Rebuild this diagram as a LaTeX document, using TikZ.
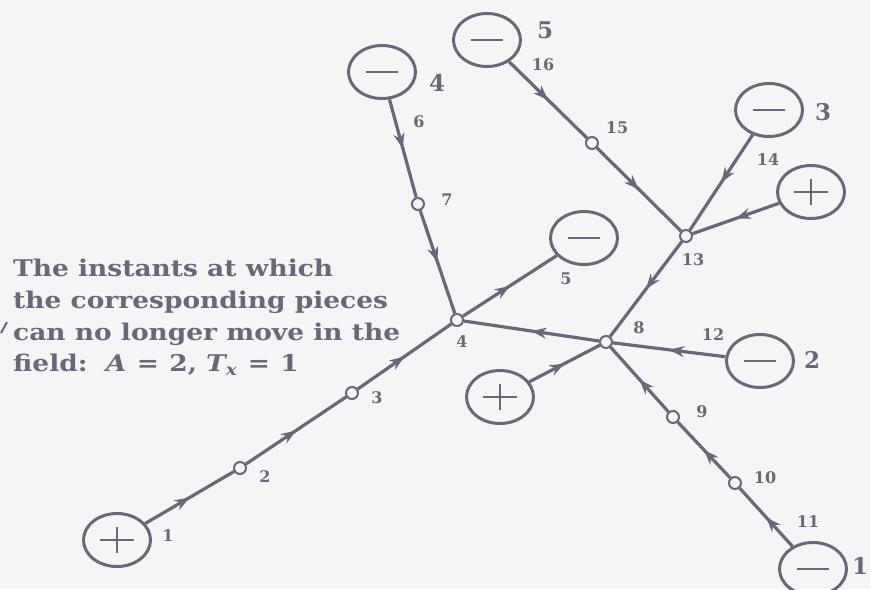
\documentclass[tikz,border=0pt]{standalone}
\usepackage{fontspec}
\setmainfont{DejaVu Serif}
\newfontfamily\notefont[FakeStretch=1.15]{DejaVu Serif}
\usepackage{tikz}
\usetikzlibrary{shapes, arrows.meta, decorations.markings}
\definecolor{ink}{RGB}{104,104,120}
\definecolor{paper}{RGB}{244,245,245}
\newcommand{\eqsign}{\hspace{0.45em}=\hspace{0.45em}}

\begin{document}
\begin{tikzpicture}[x=1pt, y=-1pt,
	charge/.style={draw=ink, line width=3pt, ellipse, minimum width=67pt, minimum height=53pt, inner sep=0pt},
	minus/.style={charge, path picture={\draw[ink, line width=2pt] ([xshift=-16pt]path picture bounding box.center) -- ([xshift=16pt]path picture bounding box.center);}},
	plus/.style={charge, path picture={\draw[ink, line width=2.2pt] ([xshift=-17pt]path picture bounding box.center) -- ([xshift=17pt]path picture bounding box.center) ([yshift=-13pt]path picture bounding box.center) -- ([yshift=13pt]path picture bounding box.center);}},
	joint/.style={draw=ink, fill=paper, circle, line width=2pt, minimum size=12pt, inner sep=0pt},
	tag/.style={text=ink, font=\bfseries\fontsize{16}{16}\selectfont, inner sep=0pt},
	pole/.style={text=ink, font=\bfseries\fontsize{23}{23}\selectfont, inner sep=0pt},
	note/.style={text=ink, align=left, inner sep=0pt, font=\notefont\bfseries\fontsize{23}{31.7}\selectfont},
	wire/.style={draw=ink, line width=3.2pt, postaction={decorate}, decoration={markings, mark=at position 0.5 with {\arrow{Stealth[length=15pt, width=11pt]}}}}
	]
	\fill [paper] (0,0) rectangle (870,589);
	\useasboundingbox (0,0) rectangle (870,589);

	% charges
	\node [plus](p1) at (117,540) {};
	\node [minus](m1) at (813,569) {};
	\node [minus](m2) at (760,361) {};
	\node [minus](m3) at (769,110) {};
	\node [minus](m4) at (382,72) {};
	\node [minus](m5) at (487,40) {};
	\node [minus](m6) at (584,238) {};
	\node [plus](p8) at (500,397) {};
	\node [plus](p13) at (811,192) {};

	% junctions
	\node [joint](j2) at (240,468) {};
	\node [joint](j3) at (352,393) {};
	\node [joint](j4) at (457,320) {};
	\node [joint](j7) at (418,204) {};
	\node [joint](j8) at (606,342) {};
	\node [joint](j9) at (673,417) {};
	\node [joint](j10) at (735,483) {};
	\node [joint](j13) at (686,236) {};
	\node [joint](j15) at (592,143) {};

	% wires
	\draw [wire] (p1) -- (j2);
	\draw [wire] (j2) -- (j3);
	\draw [wire] (j3) -- (j4);
	\draw [wire] (j4) -- (m6);
	\draw [wire] (m4) -- (j7);
	\draw [wire] (j7) -- (j4);
	\draw [wire] (m5) -- (j15);
	\draw [wire] (j15) -- (j13);
	\draw [wire] (m3) -- (j13);
	\draw [wire] (p13) -- (j13);
	\draw [wire] (j13) -- (j8);
	\draw [wire] (j8) -- (j4);
	\draw [wire] (m2) -- (j8);
	\draw [wire] (p8) -- (j8);
	\draw [wire] (j9) -- (j8);
	\draw [wire] (j10) -- (j9);
	\draw [wire] (m1) -- (j10);

	% time labels
	\node [tag](t1) at (168,536) {1};
	\node [tag](t2) at (265,477) {2};
	\node [tag](t3) at (377,398) {3};
	\node [tag](t4) at (462,342) {4};
	\node [tag](t5) at (566,279) {5};
	\node [tag](t6) at (419,122) {6};
	\node [tag](t7) at (447,200) {7};
	\node [tag](t8) at (639,328) {8};
	\node [tag](t9) at (702,412) {9};
	\node [tag](t10) at (765,478) {10};
	\node [tag](t11) at (808,522) {11};
	\node [tag](t12) at (713,335) {12};
	\node [tag](t13) at (693,260) {13};
	\node [tag](t14) at (768,160) {14};
	\node [tag](t15) at (617,128) {15};
	\node [tag](t16) at (543,65) {16};

	% piece numbers
	\node [pole](n1) at (860,566) {1};
	\node [pole](n2) at (812,360) {2};
	\node [pole](n3) at (823,112) {3};
	\node [pole](n4) at (437,83) {4};
	\node [pole](n5) at (545,30) {5};

	% caption
	\node [note, anchor=north west](caption) at (13,259) {The instants at which\\the corresponding pieces\\can no longer move in the\\field:\ \ {\itshape A}\eqsign 2, {\itshape T}\textsubscript{\itshape x}\eqsign 1};
	\coordinate (k1) at (1,333);
	\coordinate (k2) at (7,322);
	\draw [ink, line width=2pt] (k1) -- (k2);
\end{tikzpicture}
\end{document}
